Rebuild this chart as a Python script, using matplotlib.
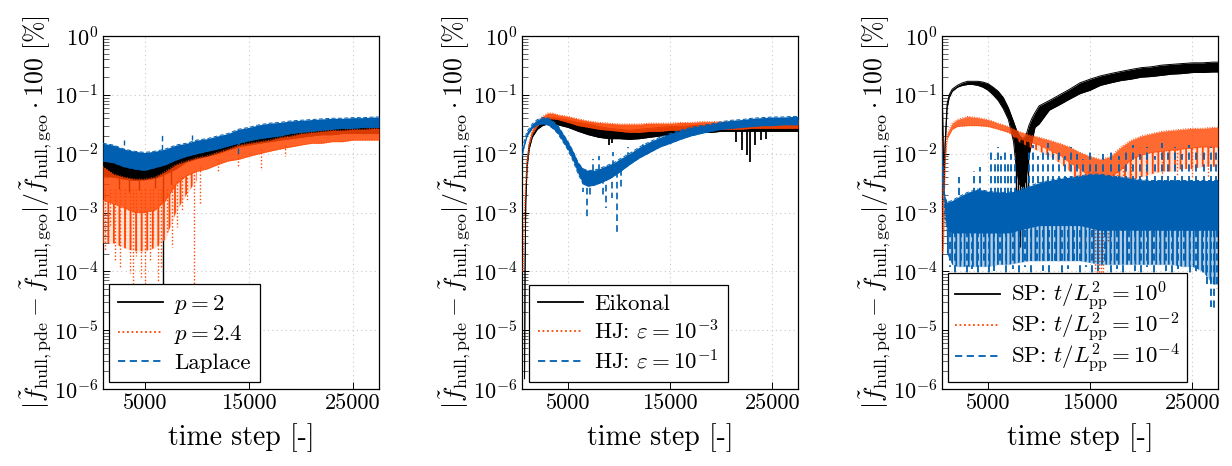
import matplotlib
matplotlib.use("Agg")
import matplotlib.pyplot as plt
from matplotlib.lines import Line2D
from matplotlib.ticker import LogLocator, NullFormatter, FixedLocator

# ---------------- data ----------------
x_ticks = [5000, 15000, 25000]
y_min, y_max = 1e-6, 1e0

# ---- panel 1: p = 2, p = 2.4, Laplace ----
p1_labels = [r"$p=2$", r"$p=2.4$", "Laplace"]
p1_x = [1000, 2000, 3000, 4000, 5000, 6000, 7000, 8000, 9000, 10000, 11000, 12000, 13000, 14000,
        15000, 16000, 17000, 18000, 19000, 20000, 21000, 22000, 23000, 24000, 25000, 26000, 27000, 27500]
p1_p2_hi = [0.009, 0.008, 0.0075, 0.007, 0.0068, 0.007, 0.0078, 0.009, 0.010, 0.012, 0.013, 0.015, 0.016, 0.018,
            0.019, 0.021, 0.022, 0.023, 0.024, 0.025, 0.026, 0.026, 0.027, 0.027, 0.028, 0.028, 0.028, 0.028]
p1_p2_lo = [0.0042, 0.004, 0.0037, 0.0035, 0.0036, 0.0038, 0.0045, 0.0055, 0.0072, 0.0082, 0.009, 0.010, 0.0115, 0.013,
            0.014, 0.015, 0.016, 0.017, 0.018, 0.019, 0.020, 0.021, 0.021, 0.022, 0.022, 0.022, 0.022, 0.022]
p1_p24_hi = [0.006, 0.0045, 0.004, 0.0037, 0.0037, 0.004, 0.005, 0.0065, 0.0075, 0.0085, 0.0092, 0.0105, 0.012, 0.014,
             0.015, 0.016, 0.017, 0.019, 0.020, 0.022, 0.023, 0.024, 0.025, 0.025, 0.026, 0.026, 0.027, 0.027]
p1_p24_lo = [0.0016, 0.0014, 0.0012, 0.001, 0.001, 0.0011, 0.0016, 0.003, 0.0042, 0.005, 0.0055, 0.0065, 0.0075, 0.008,
             0.009, 0.010, 0.011, 0.012, 0.013, 0.014, 0.015, 0.015, 0.016, 0.016, 0.017, 0.017, 0.017, 0.017]
# sparse dotted region below the dense orange band (time steps 1000..10000)
p1_p24_deep_x = [1000, 2000, 3000, 4000, 5000, 6000, 7000, 8000, 9000, 10000]
p1_p24_deep = [3e-4, 3e-4, 2.5e-4, 2.2e-4, 2.2e-4, 2.5e-4, 3.5e-4, 1e-3, 2e-3, 3.5e-3]
p1_lap_hi = [0.015, 0.014, 0.012, 0.011, 0.0105, 0.011, 0.012, 0.014, 0.015, 0.017, 0.018, 0.020, 0.022, 0.026,
             0.028, 0.031, 0.033, 0.034, 0.036, 0.037, 0.038, 0.039, 0.040, 0.040, 0.041, 0.041, 0.042, 0.042]
p1_lap_lo = [0.0075, 0.007, 0.006, 0.0055, 0.0052, 0.0058, 0.0065, 0.0078, 0.009, 0.010, 0.011, 0.012, 0.0135, 0.015,
             0.0165, 0.018, 0.019, 0.020, 0.022, 0.023, 0.024, 0.025, 0.026, 0.027, 0.027, 0.028, 0.028, 0.028]
# spikes (x, start, end)
p1_p24_spk_x = [1160, 1640, 2120, 2600, 3080, 3560, 3880, 4200, 4680, 5000, 5500, 5800, 6300, 6600, 7100,
                7580, 8060, 8550, 9030, 9730, 10300, 12000, 14000, 16200, 18500]
p1_p24_spk_top = [2.5e-3, 2.5e-3, 2.5e-3, 2.5e-3, 2.5e-3, 2.5e-3, 2.5e-3, 2.5e-3, 2.5e-3, 2.5e-3, 2.5e-3, 2.5e-3,
                  2.5e-3, 2.5e-3, 2.5e-3, 3e-3, 3.5e-3, 4e-3, 4.5e-3, 5e-3, 6e-3, 8e-3, 1e-2, 1.2e-2, 1.4e-2]
p1_p24_spk_end = [2.3e-4, 5.7e-4, 1.55e-4, 1.2e-4, 3.4e-4, 9.3e-5, 6e-5, 1.8e-4, 8e-5, 6e-5, 1.55e-4, 3.4e-4,
                  6.5e-5, 1.2e-4, 4.4e-4, 2.6e-4, 5.7e-4, 1.1e-3, 1.6e-3, 5e-5, 1.4e-3, 5e-3, 6e-3, 5.3e-3, 9e-3]
p1_p2_spk_x = [2500, 3500, 4500, 6000, 6750, 7500]
p1_p2_spk_top = 5e-3
p1_p2_spk_end = [2.5e-3, 2.2e-3, 2.4e-3, 2.6e-3, 6e-5, 3e-3]
p1_lap_spk_x = [3000, 6700, 9500, 14000]
p1_lap_spk_from = [1e-2, 8e-3, 1.2e-2, 1.8e-2]
p1_lap_spk_end = [1.7e-2, 2.2e-2, 2.1e-2, 9.5e-3]

# ---- panel 2: Eikonal, HJ eps=1e-3, HJ eps=1e-1 ----
p2_labels = ["Eikonal", r"HJ: $\varepsilon=10^{-3}$", r"HJ: $\varepsilon=10^{-1}$"]
p2_eik_x = [750, 800, 870, 1000, 1200, 1500, 2000, 2500, 3000, 3500, 4000, 5000, 6000, 7000, 8000, 9000, 10000,
            11000, 12000, 13000, 14000, 15000, 16000, 17000, 18000, 19000, 20000, 21000, 22000, 23000, 24000,
            25000, 26000, 27000, 27500]
p2_eik_hi = [1.5e-6, 1e-4, 1.5e-3, 7e-3, 1.4e-2, 2.2e-2, 3.0e-2, 3.6e-2, 4.0e-2, 4.1e-2, 4.0e-2, 3.7e-2, 3.4e-2,
             3.2e-2, 2.9e-2, 2.7e-2, 2.6e-2, 2.5e-2, 2.6e-2, 2.7e-2, 2.8e-2, 2.9e-2, 2.9e-2, 3.0e-2, 3.0e-2,
             3.1e-2, 3.1e-2, 3.1e-2, 3.1e-2, 3.1e-2, 3.2e-2, 3.2e-2, 3.3e-2, 3.3e-2, 3.3e-2]
p2_eik_lo = [1.5e-6, 1e-4, 1.5e-3, 6e-3, 1.2e-2, 1.9e-2, 2.6e-2, 3.0e-2, 3.2e-2, 3.3e-2, 3.1e-2, 2.8e-2, 2.4e-2,
             2.1e-2, 1.9e-2, 1.8e-2, 1.8e-2, 1.75e-2, 1.8e-2, 1.9e-2, 2.0e-2, 2.1e-2, 2.2e-2, 2.2e-2, 2.3e-2,
             2.3e-2, 2.4e-2, 2.4e-2, 2.4e-2, 2.4e-2, 2.4e-2, 2.4e-2, 2.4e-2, 2.4e-2, 2.4e-2]
p2_hj3_x = [600, 700, 800, 900, 1000, 1200, 1500, 2000, 2500, 3000, 3500, 4000, 5000, 6000, 7000, 8000, 9000,
            10000, 11000, 12000, 13000, 14000, 15000, 16000, 17000, 18000, 19000, 20000, 21000, 22000, 23000,
            24000, 25000, 26000, 27000, 27500]
p2_hj3_hi = [1e-4, 6e-4, 2e-3, 4.5e-3, 8e-3, 1.6e-2, 2.6e-2, 3.6e-2, 4.3e-2, 4.9e-2, 4.9e-2, 4.6e-2, 4.3e-2,
             3.9e-2, 3.6e-2, 3.4e-2, 3.3e-2, 3.2e-2, 3.2e-2, 3.2e-2, 3.3e-2, 3.3e-2, 3.3e-2, 3.4e-2, 3.4e-2,
             3.5e-2, 3.5e-2, 3.5e-2, 3.5e-2, 3.6e-2, 3.6e-2, 3.7e-2, 3.7e-2, 3.8e-2, 3.8e-2, 3.8e-2]
p2_hj3_lo = [1e-4, 6e-4, 2e-3, 4e-3, 7e-3, 1.4e-2, 2.2e-2, 3.0e-2, 3.5e-2, 3.9e-2, 3.9e-2, 3.8e-2, 3.4e-2,
             3.0e-2, 2.8e-2, 2.6e-2, 2.5e-2, 2.4e-2, 2.3e-2, 2.3e-2, 2.4e-2, 2.4e-2, 2.5e-2, 2.5e-2, 2.6e-2,
             2.6e-2, 2.6e-2, 2.6e-2, 2.6e-2, 2.6e-2, 2.7e-2, 2.7e-2, 2.7e-2, 2.7e-2, 2.7e-2, 2.7e-2]
p2_hj1_x = [500, 700, 1000, 1500, 2000, 2500, 3000, 3500, 4000, 4500, 5000, 5500, 6000, 6500, 7000, 7500, 8000,
            8500, 9000, 9500, 10000, 11000, 12000, 13000, 14000, 15000, 16000, 17000, 18000, 19000, 20000,
            21000, 22000, 23000, 24000, 25000, 26000, 27000, 27500]
p2_hj1_hi = [1.2e-2, 1.6e-2, 2.4e-2, 3.2e-2, 3.8e-2, 4.1e-2, 4.1e-2, 3.6e-2, 3.0e-2, 2.2e-2, 1.6e-2, 1.1e-2,
             7e-3, 5.5e-3, 5.2e-3, 5.2e-3, 5.5e-3, 6e-3, 6.5e-3, 7e-3, 8e-3, 1.0e-2, 1.3e-2, 1.6e-2, 1.9e-2,
             2.2e-2, 2.5e-2, 2.8e-2, 3.0e-2, 3.2e-2, 3.5e-2, 3.7e-2, 3.8e-2, 4.0e-2, 4.1e-2, 4.2e-2, 4.2e-2,
             4.3e-2, 4.3e-2]
p2_hj1_lo = [9e-3, 1.3e-2, 2.0e-2, 2.7e-2, 3.1e-2, 3.2e-2, 3.1e-2, 2.7e-2, 2.2e-2, 1.6e-2, 1.15e-2, 7.5e-3,
             4.5e-3, 3.0e-3, 2.8e-3, 2.9e-3, 3.1e-3, 3.4e-3, 3.7e-3, 4.2e-3, 4.8e-3, 6.5e-3, 8.5e-3, 1.05e-2,
             1.3e-2, 1.5e-2, 1.75e-2, 2.0e-2, 2.2e-2, 2.4e-2, 2.6e-2, 2.7e-2, 2.8e-2, 2.9e-2, 3.0e-2, 3.0e-2,
             3.1e-2, 3.1e-2, 3.1e-2]
p2_eik_spk_x = [9000, 9300, 21400, 22070, 22500, 22850, 23250, 23900, 24400]
p2_eik_spk_top = 2.4e-2
p2_eik_spk_end = [1.4e-2, 1.5e-2, 1.6e-2, 1.15e-2, 9.5e-3, 7.2e-3, 1.4e-2, 1.7e-2, 1.8e-2]
p2_hj1_spk_x = [6500, 6850, 7200, 8400, 8700, 9300, 9800, 10200, 7400, 8000, 9400, 10850, 12300]
p2_hj1_spk_from = [4e-3, 4e-3, 4e-3, 4e-3, 4.5e-3, 5e-3, 5e-3, 5.5e-3, 5e-3, 5e-3, 6e-3, 8e-3, 1.1e-2]
p2_hj1_spk_end = [2.2e-3, 8.4e-4, 2.0e-3, 1.9e-3, 1.2e-3, 1.8e-3, 4.1e-4, 2.5e-3, 8e-3, 9e-3, 1.07e-2, 1.3e-2,
                  1.6e-2]

# ---- panel 3: SP t/L^2 = 1e0, 1e-2, 1e-4 ----
p3_labels = [r"SP: $t/L_{\mathrm{pp}}^{2}=10^{0}$", r"SP: $t/L_{\mathrm{pp}}^{2}=10^{-2}$",
             r"SP: $t/L_{\mathrm{pp}}^{2}=10^{-4}$"]
p3_sp0_x = [500, 600, 680, 800, 1000, 1200, 1500, 2000, 2500, 3000, 3500, 4000, 4500, 5000, 5500, 6000, 6500,
            7000, 7500, 7800, 8100, 8400, 8700, 9000, 9300, 9600, 10000, 11000, 12000, 13000, 14000, 15000,
            16000, 17000, 18000, 19000, 20000, 21000, 22000, 23000, 24000, 25000, 26000, 27000, 27500]
p3_sp0_hi = [0.2, 0.02, 2.5e-3, 1.5e-2, 7e-2, 1.0e-1, 1.25e-1, 1.45e-1, 1.6e-1, 1.7e-1, 1.7e-1, 1.7e-1,
             1.65e-1, 1.55e-1, 1.35e-1, 1.15e-1, 9e-2, 6e-2, 3.5e-2, 2.5e-2, 2e-2, 1.8e-2, 2e-2, 3e-2, 4e-2,
             5e-2, 6.5e-2, 8e-2, 1.0e-1, 1.25e-1, 1.6e-1, 1.85e-1, 2.1e-1, 2.3e-1, 2.5e-1, 2.7e-1, 2.9e-1,
             3.0e-1, 3.2e-1, 3.3e-1, 3.4e-1, 3.5e-1, 3.5e-1, 3.6e-1, 3.6e-1]
p3_sp0_lo = [0.2, 0.02, 2.0e-3, 1.2e-2, 6e-2, 9e-2, 1.15e-1, 1.35e-1, 1.45e-1, 1.5e-1, 1.5e-1, 1.45e-1,
             1.35e-1, 1.2e-1, 1.0e-1, 8e-2, 5.8e-2, 3.8e-2, 1.6e-2, 5e-3, 3e-3, 2.7e-3, 3.5e-3, 9e-3, 1.6e-2,
             2.8e-2, 3.2e-2, 5.5e-2, 6.8e-2, 8.5e-2, 1.05e-1, 1.2e-1, 1.45e-1, 1.6e-1, 1.75e-1, 1.85e-1,
             2.0e-1, 2.05e-1, 2.15e-1, 2.25e-1, 2.3e-1, 2.4e-1, 2.4e-1, 2.45e-1, 2.45e-1]
p3_sp2_x = [500, 580, 650, 800, 1000, 1500, 2000, 3000, 4000, 5000, 6000, 7000, 8000, 9000, 10000, 11000,
            12000, 13000, 14000, 15000, 16000, 17000, 18000, 19000, 20000, 21000, 22000, 23000, 24000, 25000,
            26000, 27000, 27500]
p3_sp2_hi = [2e-2, 3e-3, 1.5e-3, 1e-2, 2.2e-2, 3.3e-2, 3.8e-2, 4.3e-2, 4.1e-2, 3.8e-2, 3.3e-2, 2.9e-2, 2.4e-2,
             2.1e-2, 1.9e-2, 1.7e-2, 1.5e-2, 1.3e-2, 1.05e-2, 9e-3, 8e-3, 9e-3, 1.3e-2, 1.7e-2, 2.0e-2, 2.2e-2,
             2.4e-2, 2.5e-2, 2.6e-2, 2.7e-2, 2.7e-2, 2.8e-2, 2.8e-2]
p3_sp2_lo = [1.6e-2, 2e-4, 3e-4, 7e-3, 1.8e-2, 2.6e-2, 2.9e-2, 3.0e-2, 3.0e-2, 2.9e-2, 2.6e-2, 2.3e-2, 1.8e-2,
             1.6e-2, 1.4e-2, 1.15e-2, 9.5e-3, 7e-3, 5.5e-3, 4e-3, 3.6e-3, 4e-3, 5.3e-3, 8e-3, 9.5e-3, 1.05e-2,
             1.1e-2, 1.15e-2, 1.2e-2, 1.25e-2, 1.3e-2, 1.3e-2, 1.3e-2]
# sparse dotted region below the dense orange band
p3_sp2_deep = [1.6e-2, 2e-4, 3e-4, 7e-3, 1.8e-2, 2.6e-2, 2.9e-2, 3.0e-2, 3.0e-2, 2.9e-2, 2.6e-2, 2.3e-2, 1.6e-2,
               1.3e-2, 1.1e-2, 9e-3, 7e-3, 5e-3, 3e-3, 1.5e-3, 1.2e-3, 1.5e-3, 2.5e-3, 3.5e-3, 4e-3, 4.5e-3,
               5e-3, 5e-3, 5.5e-3, 5.5e-3, 6e-3, 6e-3, 6e-3]
p3_sp4_x = [500, 600, 700, 800, 1000, 1500, 2000, 3000, 4000, 5000, 6000, 7000, 8000, 9000, 10000, 11000,
            12000, 13000, 14000, 15000, 16000, 17000, 18000, 19000, 20000, 21000, 22000, 23000, 24000, 25000,
            26000, 27000, 27500]
p3_sp4_hi = [1.3e-2, 6e-3, 2.5e-3, 1.8e-3, 1.5e-3, 1.6e-3, 1.8e-3, 2.2e-3, 2.5e-3, 2.3e-3, 2.2e-3, 2.2e-3,
             2.4e-3, 2.8e-3, 3.2e-3, 3.5e-3, 3.8e-3, 4e-3, 4.2e-3, 4.5e-3, 4.5e-3, 4.2e-3, 4e-3, 3.8e-3, 3.6e-3,
             3.5e-3, 3.5e-3, 3.5e-3, 3.5e-3, 3.5e-3, 3.5e-3, 3.5e-3, 3.5e-3]
p3_sp4_lo = [1.0e-2, 3e-3, 1.5e-3, 8e-4, 5e-4, 4.5e-4, 4.5e-4, 4.5e-4, 4.5e-4, 4.5e-4, 4.5e-4, 4.5e-4, 5e-4,
             5.5e-4, 6e-4, 6e-4, 6e-4, 6e-4, 6e-4, 5.5e-4, 5e-4, 5e-4, 5e-4, 5e-4, 5e-4, 5e-4, 5e-4, 5e-4, 5e-4,
             5e-4, 5e-4, 5e-4, 5e-4]
# sparse dashed region below the dense blue band
p3_sp4_deep = [1.0e-2, 3e-3, 1.5e-3, 8e-4, 2e-4, 1.3e-4, 1.2e-4, 1.2e-4, 1.2e-4, 1.2e-4, 1.3e-4, 1.3e-4,
               1.4e-4, 1.5e-4, 1.5e-4, 1.5e-4, 1.5e-4, 1.5e-4, 1.5e-4, 1.4e-4, 1.3e-4, 1.3e-4, 1.3e-4, 1.3e-4,
               1.3e-4, 1.3e-4, 1.3e-4, 1.3e-4, 1.2e-4, 1.2e-4, 1e-4, 6e-5, 6e-5]
p3_sp0_spk_x = [7700, 7900, 8100, 8300, 8500, 8700, 8900]
p3_sp0_spk_top = 1e-2
p3_sp0_spk_end = [5e-4, 1e-3, 2.6e-4, 4e-4, 1.2e-3, 6e-4, 2e-3]
p3_sp2_spk_x = [14800, 15300, 15500, 15700, 15900, 16100, 16300, 16500, 16700, 17200, 17600, 18200, 19000,
                20500, 22000, 23500, 25000, 26500]
p3_sp2_spk_from = [5e-3, 5e-3, 4e-3, 4e-3, 4e-3, 4e-3, 4e-3, 4e-3, 4e-3, 4.5e-3, 5e-3, 6e-3, 9e-3, 1e-2,
                   1.1e-2, 1.2e-2, 1.25e-2, 1.3e-2]
p3_sp2_spk_end = [1e-3, 3e-4, 1e-4, 5e-5, 6e-5, 5e-5, 8e-5, 1.5e-4, 3e-4, 1.5e-3, 2.5e-3, 2.5e-3, 3e-3, 3.5e-3,
                  4e-3, 4e-3, 4e-3, 4e-3]
p3_sp4_up_x = [2200, 3600, 4200, 5300, 5700, 6000, 6300, 6700, 7000, 7300, 7600, 9000, 9400, 9900, 10400,
               10900, 11400, 11900, 12500, 13100, 13700, 14300, 15000, 15600, 16300, 17000, 17800, 18500,
               19200, 19900, 20600, 21300, 22000, 22600, 23300, 24000, 24700, 25400, 26100, 26800, 27300]
p3_sp4_up_base = 2e-3
p3_sp4_up_end = [4e-3, 5e-3, 6e-3, 1.1e-2, 8e-3, 1.3e-2, 9e-3, 1.2e-2, 7e-3, 1.0e-2, 8e-3, 1.1e-2, 1.4e-2,
                 9e-3, 1.2e-2, 1.5e-2, 1.0e-2, 1.2e-2, 9e-3, 1.3e-2, 1.0e-2, 8e-3, 1.2e-2, 7e-3, 1.0e-2, 1.1e-2,
                 9e-3, 1.2e-2, 1.4e-2, 1.0e-2, 1.3e-2, 9e-3, 1.5e-2, 1.1e-2, 1.3e-2, 1.0e-2, 1.4e-2, 1.2e-2,
                 1.1e-2, 1.3e-2, 1.2e-2]
p3_sp4_dn_x = [1300, 1800, 2400, 2900, 3400, 4000, 4600, 5100, 5600, 6200, 6800, 7400, 8000, 8600, 9200, 9800,
               10400, 11000, 11600, 12200, 12800, 13400, 14000, 14600, 15200, 15800, 16400, 17000, 17600,
               18200, 18800, 19400, 20000, 20600, 21200, 21800, 22400, 23000, 23600, 24200, 24800, 25400,
               26000, 26400, 26800, 27100, 27400]
p3_sp4_dn_base = 5e-4
p3_sp4_dn_end = [1.2e-4, 9e-5, 1.5e-4, 8e-5, 1.1e-4, 9e-5, 1.3e-4, 8e-5, 1e-4, 1.4e-4, 9e-5, 1.1e-4, 8e-5,
                 1.2e-4, 9e-5, 1.3e-4, 1e-4, 8e-5, 1.5e-4, 9e-5, 1.1e-4, 1.4e-4, 8e-5, 1.2e-4, 9e-5, 1e-4,
                 1.3e-4, 8e-5, 1.1e-4, 9e-5, 1.5e-4, 1e-4, 8e-5, 1.2e-4, 9e-5, 1.3e-4, 1e-4, 8e-5, 1.1e-4,
                 1.4e-4, 9e-5, 1e-4, 8e-5, 6e-5, 2.5e-5, 2e-5, 5e-5]

# ---------------- styling ----------------
plt.rcParams.update({
    "font.family": ["cmr10", "DejaVu Serif"],
    "mathtext.fontset": "cm",
    "axes.unicode_minus": False,
    "axes.formatter.use_mathtext": True,
    "hatch.linewidth": 1.3,
})
C_BLACK = "#000000"
C_ORANGE = "#FF4500"
C_BLUE = "#005FB0"
LS_SOLID = "-"
LS_DOT = (0, (1, 1.5))
LS_DASH = (0, (4, 2.5))

fig = plt.figure(figsize=(12.32, 4.66), dpi=100)
ax_w, ax_h, ax_b = 0.2240, 0.7575, 0.1652
lefts = [0.0836, 0.4237, 0.7646]
axes = [fig.add_axes([l, ax_b, ax_w, ax_h]) for l in lefts]


def band(ax, x, lo, hi, color, ls, z, alpha=1.0):
    ax.fill_between(x, lo, hi, color=color, lw=0, alpha=alpha, zorder=z)
    ax.plot(x, hi, color=color, ls=ls, lw=0.7, zorder=z)
    ax.plot(x, lo, color=color, ls=ls, lw=0.7, zorder=z)


def sparse(ax, x, lo, hi, color, z, alpha, hatch):
    ax.fill_between(x, lo, hi, color=color, lw=0, alpha=alpha, zorder=z)
    ax.fill_between(x, lo, hi, facecolor="none", edgecolor=color, hatch=hatch, lw=0, zorder=z)


def spikes(ax, x, y0, y1, color, ls, z, lw=1.0):
    ax.vlines(x, y0, y1, colors=color, linestyles=[ls], lw=lw, zorder=z)


# panel 1
a = axes[0]
band(a, p1_x, p1_p2_lo, p1_p2_hi, C_BLACK, LS_SOLID, 2)
spikes(a, p1_p2_spk_x, p1_p2_spk_top, p1_p2_spk_end, C_BLACK, LS_SOLID, 2)
sparse(a, p1_p24_deep_x, p1_p24_deep, p1_p24_lo[:len(p1_p24_deep_x)], C_ORANGE, 3, 0.15, "|||")
band(a, p1_x, p1_p24_lo, p1_p24_hi, C_ORANGE, LS_DOT, 3, alpha=0.85)
spikes(a, p1_p24_spk_x, p1_p24_spk_top, p1_p24_spk_end, C_ORANGE, LS_DOT, 3)
band(a, p1_x, p1_lap_lo, p1_lap_hi, C_BLUE, LS_DASH, 4)
spikes(a, p1_lap_spk_x, p1_lap_spk_from, p1_lap_spk_end, C_BLUE, LS_DASH, 4)

# panel 2
a = axes[1]
band(a, p2_eik_x, p2_eik_lo, p2_eik_hi, C_BLACK, LS_SOLID, 2)
spikes(a, p2_eik_spk_x, p2_eik_spk_top, p2_eik_spk_end, C_BLACK, LS_SOLID, 2, lw=1.3)
band(a, p2_hj3_x, p2_hj3_lo, p2_hj3_hi, C_ORANGE, LS_DOT, 3, alpha=0.9)
band(a, p2_hj1_x, p2_hj1_lo, p2_hj1_hi, C_BLUE, LS_DASH, 4)
spikes(a, p2_hj1_spk_x, p2_hj1_spk_from, p2_hj1_spk_end, C_BLUE, LS_DASH, 4, lw=1.2)

# panel 3
a = axes[2]
band(a, p3_sp0_x, p3_sp0_lo, p3_sp0_hi, C_BLACK, LS_SOLID, 2)
spikes(a, p3_sp0_spk_x, p3_sp0_spk_top, p3_sp0_spk_end, C_BLACK, LS_SOLID, 2)
sparse(a, p3_sp2_x, p3_sp2_deep, p3_sp2_lo, C_ORANGE, 3, 0.15, "|||")
band(a, p3_sp2_x, p3_sp2_lo, p3_sp2_hi, C_ORANGE, LS_DOT, 3, alpha=0.8)
spikes(a, p3_sp2_spk_x, p3_sp2_spk_from, p3_sp2_spk_end, C_ORANGE, LS_DOT, 3)
sparse(a, p3_sp4_x, p3_sp4_deep, p3_sp4_lo, C_BLUE, 4, 0.3, "||||")
band(a, p3_sp4_x, p3_sp4_lo, p3_sp4_hi, C_BLUE, LS_DASH, 4)
spikes(a, p3_sp4_up_x, p3_sp4_up_base, p3_sp4_up_end, C_BLUE, LS_DASH, 4, lw=1.3)
spikes(a, p3_sp4_dn_x, p3_sp4_dn_base, p3_sp4_dn_end, C_BLUE, LS_DASH, 4, lw=1.3)

xlims = [(1000, 27500), (500, 27500), (500, 27500)]
all_labels = [p1_labels, p2_labels, p3_labels]
leg_anchor = [(0.022, 0.02), (0.025, 0.02), (0.022, 0.02)]
leg_spacing = [0.3, 0.22, -0.1]
leg_pad = [0.4, 0.4, 0.3]
ylabel = (r"$|\tilde{f}_{\mathrm{hull,pde}}-\tilde{f}_{\mathrm{hull,geo}}|/\tilde{f}_{\mathrm{hull,geo}}"
          r"\cdot 100$ [%]")

for a, xl, labs, anc, lsp, bp in zip(axes, xlims, all_labels, leg_anchor, leg_spacing, leg_pad):
    a.set_yscale("log")
    a.set_ylim(y_min, y_max)
    a.set_xlim(*xl)
    a.xaxis.set_major_locator(FixedLocator(x_ticks))
    a.set_xticklabels([str(t) for t in x_ticks])
    a.yaxis.set_major_locator(LogLocator(base=10, numticks=12))
    a.yaxis.set_minor_locator(LogLocator(base=10, subs=range(2, 10), numticks=12))
    a.yaxis.set_minor_formatter(NullFormatter())
    a.grid(True, which="major", color="#c8c8c8", ls=(0, (1, 3)), lw=0.8)
    a.set_axisbelow(True)
    a.tick_params(which="both", direction="in", labelsize=16, width=0.7)
    a.tick_params(which="major", length=5)
    a.tick_params(which="minor", length=4, color="#666666")
    for s in a.spines.values():
        s.set_linewidth(0.9)
    a.set_xlabel("time step [-]", fontsize=20, labelpad=7)
    a.set_ylabel(ylabel, fontsize=18.5, labelpad=0)
    handles = [Line2D([], [], color=C_BLACK, ls=LS_SOLID, lw=1.3),
               Line2D([], [], color=C_ORANGE, ls=LS_DOT, lw=1.3),
               Line2D([], [], color=C_BLUE, ls=LS_DASH, lw=1.3)]
    leg = a.legend(handles, labs, loc="lower left", bbox_to_anchor=anc, borderaxespad=0,
                   fontsize=16.5, frameon=True, fancybox=False, framealpha=1, edgecolor="black",
                   handlelength=1.95, handletextpad=0.5, labelspacing=lsp, borderpad=bp)
    leg.get_frame().set_linewidth(0.9)
    leg.set_zorder(10)

fig.savefig("out.png", dpi=100)
